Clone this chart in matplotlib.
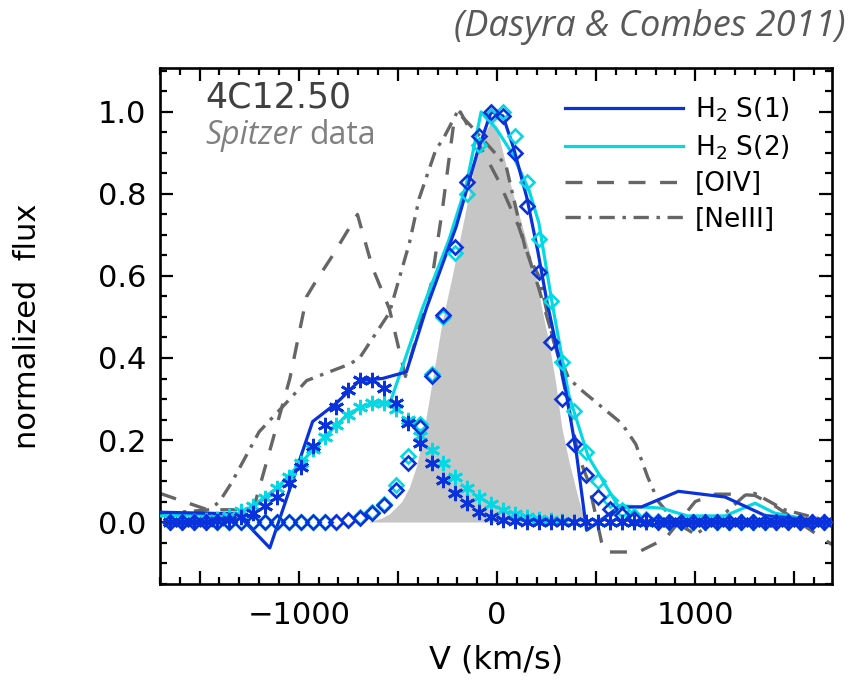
import numpy as np
import matplotlib
matplotlib.use("Agg")
import matplotlib.pyplot as plt
from matplotlib.ticker import MultipleLocator, FuncFormatter
from matplotlib.lines import Line2D

plt.rcParams['font.family'] = ['DejaVu Sans']
plt.rcParams['lines.scale_dashes'] = False

# ---------------- data ----------------
# observed H2 S(1) profile
v_s1 = [-1700, -1311, -1146, -930, -810, -693, -578, -457, -357, -206, -100, -30, 30, 85,
        151, 206, 251, 347, 400, 452, 613, 729, 915, 1151, 1352, 1690]
f_s1 = [0.024, 0.02, -0.063, 0.245, 0.29, 0.345, 0.35, 0.366, 0.52, 0.72, 0.90, 1.0, 0.99, 0.91,
        0.79, 0.66, 0.54, 0.32, 0.17, -0.02, 0.036, 0.037, 0.075, 0.061, 0.016, 0.0]

# observed H2 S(2) profile
v_s2 = [-1700, -1300, -1230, -1110, -990, -870, -750, -630, -540, -377, -241, -156, -80, -5,
        75, 161, 211, 276, 362, 460, 610, 830, 960, 1150, 1302, 1400, 1690]
f_s2 = [0.015, 0.02, 0.04, 0.083, 0.144, 0.207, 0.265, 0.29, 0.29, 0.52, 0.69, 0.82, 1.0, 0.96,
        0.90, 0.81, 0.73, 0.54, 0.31, 0.16, 0.04, 0.034, 0.015, 0.015, 0.046, 0.022, -0.005]

# [OIV] profile
v_o4 = [-1700, -1460, -1230, -1160, -1045, -960, -910, -829, -704, -628, -543, -462, -332, -276,
        -216, -185, -140, -55, 10, 110, 211, 311, 412, 460, 528, 548, 714, 850, 1000, 1100, 1200,
        1300, 1400, 1690]
f_o4 = [0.07, 0.03, 0.03, 0.15, 0.35, 0.55, 0.59, 0.65, 0.75, 0.62, 0.52, 0.355, 0.58, 0.76,
        0.98, 1.0, 0.96, 0.89, 0.83, 0.72, 0.57, 0.40, 0.16, 0.10, -0.05, -0.073, -0.073, -0.04,
        0.05, 0.068, 0.068, 0.065, 0.04, -0.055]

# [NeIII] profile
v_ne = [-1700, -1450, -1400, -1340, -1200, -1045, -960, -744, -693, -543, -442, -392, -307, -276,
        -200, -140, 45, 146, 211, 286, 362, 430, 480, 630, 700, 760, 814, 900, 1000, 1100, 1250,
        1300, 1450, 1690]
f_ne = [0.02, 0.03, 0.05, 0.095, 0.22, 0.30, 0.345, 0.385, 0.40, 0.51, 0.68, 0.79, 0.91, 0.93,
        1.0, 0.97, 0.87, 0.66, 0.60, 0.44, 0.35, 0.32, 0.30, 0.24, 0.19, 0.11, 0.05, 0.0, -0.03,
        0.0, 0.065, 0.07, 0.03, 0.0]

# grey reference profile
v_gray = [-650, -580, -543, -480, -442, -407, -377, -342, -307, -276, -226, -166, -106, -60, -25,
          10, 75, 146, 196, 226, 261, 296, 327, 362, 412, 447]
f_gray = [0.0, 0.01, 0.02, 0.05, 0.085, 0.135, 0.2, 0.30, 0.40, 0.49, 0.60, 0.74, 0.89, 0.95, 0.98,
          0.94, 0.81, 0.69, 0.60, 0.52, 0.44, 0.34, 0.23, 0.15, 0.054, 0.0]

# fitted components sampled every 60 km/s
v_fit = np.arange(-1650, 1651, 60)
d1 = [0, 0, 0, 0, 0, 0, 0, 0, 0, 0, 0, 0, 0, 0, 0,
      0.005, 0.01, 0.021, 0.041, 0.078, 0.144, 0.232, 0.356, 0.505, 0.67, 0.83, 0.94, 1.0, 0.99,
      0.90, 0.77, 0.61, 0.44, 0.30, 0.19, 0.115, 0.062, 0.032, 0.017, 0.008, 0.004,
      0, 0, 0, 0, 0, 0, 0, 0, 0, 0, 0, 0, 0, 0, 0]
d2 = [0, 0, 0, 0, 0, 0, 0, 0, 0, 0, 0, 0, 0, 0, 0,
      0.006, 0.012, 0.025, 0.045, 0.09, 0.16, 0.24, 0.36, 0.50, 0.655, 0.80, 0.92, 0.99, 1.0,
      0.94, 0.83, 0.69, 0.54, 0.39, 0.27, 0.17, 0.10, 0.054, 0.03, 0.015, 0.007, 0.003,
      0, 0, 0, 0, 0, 0, 0, 0, 0, 0, 0, 0, 0, 0]
a1 = [0, 0, 0, 0, 0.002, 0.005, 0.012, 0.022, 0.038, 0.061, 0.095, 0.134, 0.185, 0.237, 0.28,
      0.322, 0.346, 0.346, 0.327, 0.29, 0.241, 0.193, 0.144, 0.102, 0.07, 0.046, 0.025, 0.012,
      0.005, 0.002,
      0, 0, 0, 0, 0, 0, 0, 0, 0, 0, 0, 0, 0, 0, 0, 0, 0, 0, 0, 0, 0, 0, 0, 0, 0, 0]
a2 = [0, 0, 0.002, 0.004, 0.008, 0.016, 0.027, 0.04, 0.058, 0.083, 0.11, 0.144, 0.178, 0.207,
      0.237, 0.262, 0.28, 0.29, 0.29, 0.275, 0.248, 0.21, 0.175, 0.144, 0.11, 0.083, 0.061,
      0.045, 0.03, 0.02, 0.013, 0.008, 0.005, 0.003,
      0, 0, 0, 0, 0, 0, 0, 0, 0, 0, 0, 0, 0, 0, 0, 0, 0, 0, 0, 0, 0, 0]
assert len(d1) == len(v_fit) and len(d2) == len(v_fit)
assert len(a1) == len(v_fit) and len(a2) == len(v_fit)

labels = ['H$_2$ S(1)', 'H$_2$ S(2)', '[OIV]', '[NeIII]']

# ---------------- styles ----------------
BLUE = '#0a32dc'
CYAN = '#05d8e2'
GRAY = '#666666'
FILL = '#c6c6c6'
DASH = (0, (12.2, 10.5))
DASHDOT = (0, (11, 5.5, 2.5, 5.5))

fig = plt.figure(figsize=(8.5, 6.9), dpi=100)
ax = fig.add_axes([160 / 850, 1 - 584 / 690, 672 / 850, 516 / 690])

ax.fill_between(v_gray, 0, f_gray, color=FILL, lw=0, zorder=1)
ax.plot(v_o4, f_o4, color=GRAY, lw=2.4, linestyle=DASH, zorder=2)
ax.plot(v_ne, f_ne, color=GRAY, lw=2.4, linestyle=DASHDOT, zorder=2)
ax.plot(v_s2, f_s2, color=CYAN, lw=2.3, zorder=3)
ax.plot(v_s1, f_s1, color=BLUE, lw=2.3, zorder=3)

ax.plot(v_fit, a2, linestyle='none', marker=(6, 2, 0), ms=11, mew=2.0, color=CYAN, zorder=4)
ax.plot(v_fit, a1, linestyle='none', marker=(6, 2, 0), ms=11, mew=2.0, color=BLUE, zorder=5)
ax.plot(v_fit, d2, linestyle='none', marker='D', ms=6.8, mew=1.9, mfc='none', mec=CYAN, zorder=4)
ax.plot(v_fit, d1, linestyle='none', marker='D', ms=6.8, mew=1.9, mfc='none', mec=BLUE, zorder=5)

ax.set_xlim(-1700, 1690)
ax.set_ylim(-0.151, 1.107)

ax.xaxis.set_major_locator(MultipleLocator(500))
ax.xaxis.set_minor_locator(MultipleLocator(100))
ax.yaxis.set_major_locator(MultipleLocator(0.2))
ax.yaxis.set_minor_locator(MultipleLocator(0.05))


def xfmt(x, pos):
    if abs(x % 1000) < 1e-6 or abs(x % 1000 - 1000) < 1e-6:
        return f"{int(round(x))}".replace('-', '\u2212')
    return ''


ax.xaxis.set_major_formatter(FuncFormatter(xfmt))
ax.yaxis.set_major_formatter(FuncFormatter(lambda y, p: f"{y:.1f}"))

ax.tick_params(which='both', direction='in', top=True, right=True, width=1.6, color='black')
ax.tick_params(which='major', length=9.5, labelsize=22)
ax.tick_params(which='minor', length=5)
ax.tick_params(axis='x', which='major', pad=12)
ax.tick_params(axis='y', which='major', pad=10)
for s in ax.spines.values():
    s.set_linewidth(1.9)

ax.set_xlabel('V (km/s)', fontsize=23)
ax.set_ylabel('normalized  flux', fontsize=22)
ax.xaxis.set_label_coords(0.5, -0.118)
ax.yaxis.set_label_coords(-0.176, 0.5)

handles = [Line2D([], [], color=BLUE, lw=2.3),
           Line2D([], [], color=CYAN, lw=2.3),
           Line2D([], [], color=GRAY, lw=2.4, linestyle=DASH),
           Line2D([], [], color=GRAY, lw=2.4, linestyle=DASHDOT)]
leg = fig.legend(handles, labels, loc='upper left', bbox_to_anchor=(565 / 850, 1 - 95 / 690),
                 frameon=False, fontsize=19, handlelength=4.47, handletextpad=0.45,
                 labelspacing=0.36, borderpad=0, borderaxespad=0)

fig.text(205 / 850, 1 - 97 / 690, '4C12.50', fontsize=25, color='#404040',
         ha='left', va='center')
t1 = fig.text(205 / 850, 1 - 136 / 690, 'Spitzer', fontsize=23, color='#808080',
              style='italic', family='Open Sans', ha='left', va='center')
fig.canvas.draw()
bb = t1.get_window_extent(renderer=fig.canvas.get_renderer())
fig.text(bb.x1 / fig.bbox.width + 0.009, 1 - 136 / 690, 'data', fontsize=23, color='#808080',
         family='Open Sans', ha='left', va='center')

fig.text(846 / 850, 1 - 27 / 690, '(Dasyra & Combes 2011)', fontsize=26, color='#595959',
         style='italic', family='Open Sans', ha='right', va='center')

fig.savefig('out.png', dpi=100)
